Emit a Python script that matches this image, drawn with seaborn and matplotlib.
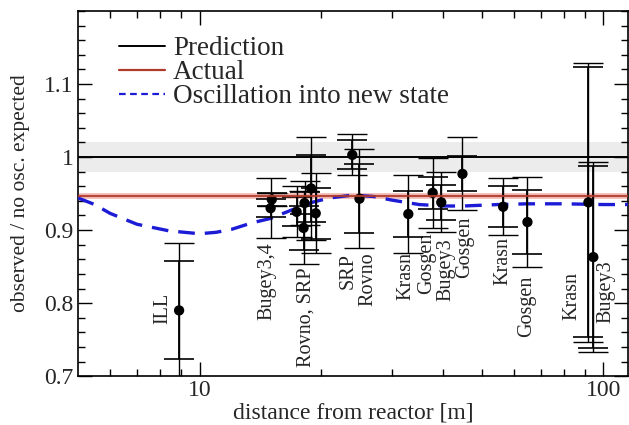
import numpy as np
import pandas as pd
import seaborn as sns
import matplotlib.pyplot as plt
from matplotlib.lines import Line2D
from matplotlib.ticker import FixedLocator, MultipleLocator, NullFormatter

# measured / expected ratios per experiment
distance = [8.9, 15.0, 15.1, 17.4, 18.2, 18.1, 18.9, 19.4, 23.9, 24.9,
            32.9, 37.8, 39.7, 44.8, 56.5, 64.9, 91.9, 94.5]
ratio = [0.790, 0.930, 0.942, 0.925, 0.937, 0.903, 0.957, 0.923, 1.003, 0.943,
         0.922, 0.951, 0.938, 0.977, 0.932, 0.911, 0.938, 0.863]
err_stat = [0.067, 0.012, 0.009, 0.020, 0.015, 0.030, 0.046, 0.035, 0.020, 0.047,
            0.031, 0.022, 0.024, 0.024, 0.028, 0.044, 0.185, 0.125]
err_tot = [0.092, 0.041, 0.009, 0.035, 0.030, 0.050, 0.070, 0.055, 0.028, 0.068,
           0.054, 0.048, 0.041, 0.050, 0.039, 0.062, 0.191, 0.130]

# experiment labels
label_text = ["ILL", "Bugey3,4", "Rovno, SRP", "SRP", "Rovno", "Krasn", "Gosgen",
              "Bugey3", "Gosgen", "Krasn", "Gosgen", "Krasn", "Bugey3"]
label_x = [8.1, 14.7, 18.4, 23.4, 26.2, 32.5, 36.6, 40.8, 45.3, 56.3, 64.5, 83.6, 101.7]
label_top = [0.814, 0.884, 0.849, 0.868, 0.870, 0.870, 0.896, 0.889, 0.918, 0.890,
             0.838, 0.842, 0.859]

# oscillation curve
curve_d = [5, 5.5, 6, 7, 8.4, 10, 11, 12, 13.5, 15, 17, 19, 21, 24, 27, 30, 35,
           40, 45, 55, 65, 80, 100, 115]
curve_r = [0.944, 0.935, 0.923, 0.908, 0.899, 0.895, 0.897, 0.901, 0.910, 0.916,
           0.928, 0.938, 0.944, 0.948, 0.946, 0.941, 0.935, 0.933, 0.933, 0.935,
           0.936, 0.936, 0.935, 0.935]

prediction = 1.0
prediction_band = 0.021
actual = 0.947
actual_band = 0.004

sns.set_theme(style="ticks")
plt.rcParams['font.family'] = ['Liberation Serif', 'DejaVu Serif']

df = pd.DataFrame({"d": distance, "r": ratio, "es": err_stat, "et": err_tot})
curve = pd.DataFrame({"d": curve_d, "r": curve_r})

fig, ax = plt.subplots(figsize=(6.29, 4.25), dpi=100)
fig.subplots_adjust(left=0.124, right=0.998, top=0.974, bottom=0.115)

ax.set_xscale("log")
ax.set_xlim(5, 115)
ax.set_ylim(0.7, 1.2)

# bands
ax.axhspan(prediction - prediction_band, prediction + prediction_band,
           color="#ececec", zorder=0, lw=0)
ax.axhspan(actual - actual_band, actual + actual_band,
           color="#f6c4c0", zorder=1, lw=0)

ax.plot([5, 115], [prediction] * 2, color="black", lw=1.4, zorder=2)
sns.lineplot(data=curve, x="d", y="r", ax=ax, color="#1c1cd6", lw=2.4,
             dashes=(5, 3), zorder=3, legend=False)

ax.errorbar(df.d, df.r, yerr=df.et, fmt="none", ecolor="black", elinewidth=1.0,
            capsize=11, capthick=1.0, zorder=4)
ax.errorbar(df.d, df.r, yerr=df.es, fmt="none", ecolor="black", elinewidth=1.3,
            capsize=11, capthick=1.2, zorder=4)
sns.scatterplot(data=df, x="d", y="r", ax=ax, color="black", s=55,
                edgecolor="none", zorder=5)

ax.plot([5, 115], [actual] * 2, color="#b03a2a", lw=1.6, zorder=6, alpha=0.9)

for t, x, y in zip(label_text, label_x, label_top):
    ax.text(x, y, t, rotation=90, ha="center", va="top", fontsize=14.5)

# legend
handles = [Line2D([], [], color="black", lw=1.4),
           Line2D([], [], color="#b03a2a", lw=1.6),
           Line2D([], [], color="#1c1cd6", lw=1.6, dashes=(3, 2))]
ax.legend(handles, ["Prediction", "Actual", "Oscillation into new state"],
          loc="upper left", bbox_to_anchor=(0.045, 0.975), frameon=False,
          fontsize=19.5, handlelength=1.7, handletextpad=0.3, labelspacing=-0.04,
          borderaxespad=0.2)

ax.yaxis.set_major_locator(FixedLocator([0.7, 0.8, 0.9, 1.0, 1.1]))
ax.set_yticklabels(["0.7", "0.8", "0.9", "1", "1.1"])
ax.yaxis.set_minor_locator(MultipleLocator(0.02))
ax.set_xticks([10, 100])
ax.set_xticklabels(["10", "100"])
ax.xaxis.set_minor_locator(FixedLocator([6, 7, 8, 9, 20, 30, 40, 50, 60, 70, 80, 90]))
ax.xaxis.set_minor_formatter(NullFormatter())
ax.tick_params(which="both", direction="in", top=True, right=True,
               labelsize=17, color="black", width=1.0)
ax.tick_params(which="major", length=10, pad=3)
ax.tick_params(which="minor", length=5)
for s in ax.spines.values():
    s.set_color("black")
    s.set_linewidth(1.2)

ax.set_xlabel("distance from reactor [m]", fontsize=17, labelpad=1)
ax.set_ylabel("observed / no osc. expected", fontsize=15.5)
ax.yaxis.set_label_coords(-0.088, 0.5)

fig.savefig("out.png", dpi=100)
